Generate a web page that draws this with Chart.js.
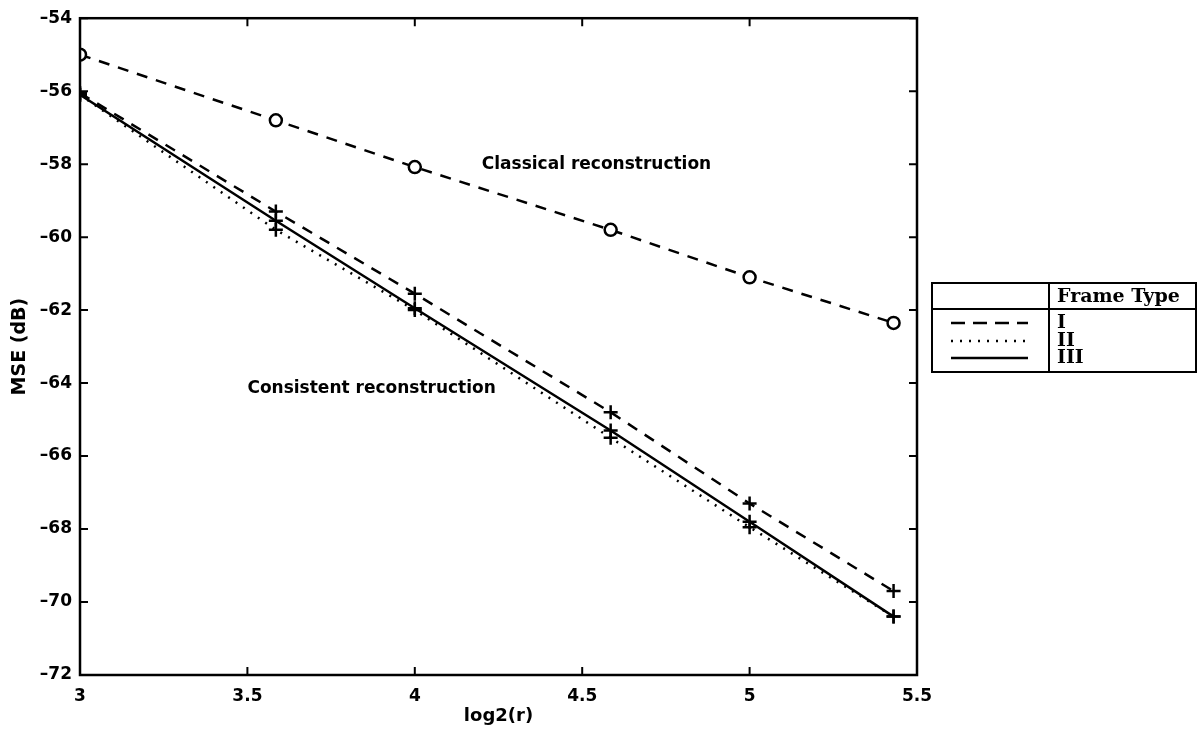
<!DOCTYPE html>
<html>
<head>
<meta charset="utf-8">
<script src="https://cdn.jsdelivr.net/npm/chart.js@4/dist/chart.umd.min.js"></script>
<style>
  html, body { margin: 0; padding: 0; background: #fff; }
</style>
</head>
<body>
<canvas id="mseChart" width="1197" height="733"></canvas>
<script>
// log2(r) positions of the measurements
var xValues = [3, 3.585, 4, 4.585, 5, 5.43];

// MSE (dB) per series
var classicalMSE = [-55.0, -56.8, -58.08, -59.8, -61.1, -62.35];
var frameI = [-56.05, -59.3, -61.55, -64.8, -67.3, -69.7];
var frameII = [-56.1, -59.8, -62.0, -65.5, -67.95, -70.4];
var frameIII = [-56.1, -59.55, -61.95, -65.3, -67.8, -70.4];

var legendNames = ['I', 'II', 'III'];
var legendTitle = 'Frame Type';

var notes = [
    { text: 'Classical reconstruction', x: 4.2, y: -58.0 },
    { text: 'Consistent reconstruction', x: 3.5, y: -64.15 }
];

var ink = '#000';
var tickFont = { family: "'DejaVu Sans', sans-serif", size: 17, weight: 'bold' };

function toPoints(values) {
    return values.map(function(v, i) { return { x: xValues[i], y: v }; });
}

function series(values, dash, style, radius) {
    return {
        data: toPoints(values),
        showLine: true,
        borderColor: ink,
        borderWidth: 2.5,
        borderDash: dash,
        borderCapStyle: 'butt',
        pointStyle: style,
        pointRadius: radius,
        pointBorderWidth: 2.5,
        pointBorderColor: ink,
        pointBackgroundColor: '#fff',
        tension: 0
    };
}

// box, inward ticks, text notes and the side legend table
var framePlugin = {
    id: 'frame',
    afterDraw: function(chart) {
        var ctx = chart.ctx;
        var a = chart.chartArea;
        var xs = chart.scales.x, ys = chart.scales.y;
        var tl = 8;

        ctx.save();
        ctx.strokeStyle = ink;
        ctx.lineWidth = 2.5;
        ctx.setLineDash([]);
        ctx.strokeRect(a.left, a.top, a.right - a.left, a.bottom - a.top);

        ctx.lineWidth = 2;
        ctx.beginPath();
        xs.ticks.forEach(function(t) {
            var px = xs.getPixelForValue(t.value);
            ctx.moveTo(px, a.bottom); ctx.lineTo(px, a.bottom - tl);
            ctx.moveTo(px, a.top); ctx.lineTo(px, a.top + tl);
        });
        ys.ticks.forEach(function(t) {
            var py = ys.getPixelForValue(t.value);
            ctx.moveTo(a.left, py); ctx.lineTo(a.left + tl, py);
            ctx.moveTo(a.right, py); ctx.lineTo(a.right - tl, py);
        });
        ctx.stroke();

        // notes
        ctx.fillStyle = ink;
        ctx.font = "bold 17px 'DejaVu Sans', sans-serif";
        ctx.textAlign = 'left';
        ctx.textBaseline = 'middle';
        notes.forEach(function(n) {
            ctx.fillText(n.text, xs.getPixelForValue(n.x), ys.getPixelForValue(n.y));
        });

        // legend table
        var L = 932, R = 1196, T = 283, H = 309, B = 372, D = 1049;
        ctx.lineWidth = 2;
        ctx.strokeRect(L, T, R - L, B - T);
        ctx.beginPath();
        ctx.moveTo(L, H); ctx.lineTo(R, H);
        ctx.moveTo(D, T); ctx.lineTo(D, B);
        ctx.stroke();

        ctx.font = "bold 19px 'DejaVu Serif', serif";
        ctx.fillText(legendTitle, 1057, 297);

        var rowY = [323, 341, 358];
        legendNames.forEach(function(name, i) {
            var ds = chart.data.datasets[i + 1];
            ctx.beginPath();
            ctx.setLineDash(i === 0 ? [14, 8] : ds.borderDash);
            ctx.lineWidth = 2.5;
            ctx.moveTo(951, rowY[i]);
            ctx.lineTo(1028, rowY[i]);
            ctx.stroke();
            ctx.setLineDash([]);
            ctx.fillText(name, 1057, rowY[i]);
        });
        ctx.restore();
    }
};

new Chart(document.getElementById('mseChart').getContext('2d'), {
    type: 'scatter',
    data: {
        datasets: [
            series(classicalMSE, [11, 9], 'circle', 6),
            series(frameI, [11, 9], 'cross', 7),
            series(frameII, [2, 7], 'cross', 7),
            series(frameIII, [], 'cross', 7)
        ]
    },
    options: {
        responsive: false,
        animation: false,
        layout: { padding: { left: 0, right: 280, top: 16, bottom: 0 } },
        plugins: {
            legend: { display: false },
            tooltip: { enabled: false }
        },
        scales: {
            x: {
                type: 'linear',
                min: 3,
                max: 5.5,
                afterFit: function(s) { s.height = 58; },
                grid: { display: false, drawTicks: false },
                border: { display: false },
                ticks: {
                    stepSize: 0.5,
                    padding: 11,
                    color: ink,
                    font: tickFont,
                    callback: function(v) { return String(v); }
                },
                title: {
                    display: true,
                    text: 'log2(r)',
                    color: ink,
                    font: { family: "'DejaVu Sans', sans-serif", size: 18, weight: 'bold' },
                    padding: { top: 0, bottom: 6 }
                }
            },
            y: {
                type: 'linear',
                min: -72,
                max: -54,
                afterFit: function(s) { s.width = 80; },
                grid: { display: false, drawTicks: false },
                border: { display: false },
                ticks: {
                    stepSize: 2,
                    padding: 8,
                    color: ink,
                    font: tickFont,
                    callback: function(v) { return String(v).replace('-', '\u2013'); }
                },
                title: {
                    display: true,
                    text: 'MSE (dB)',
                    color: ink,
                    font: { family: "'DejaVu Sans', sans-serif", size: 19, weight: 'bold' },
                    padding: { top: 9, bottom: 0 }
                }
            }
        }
    },
    plugins: [framePlugin]
});
</script>
</body>
</html>
